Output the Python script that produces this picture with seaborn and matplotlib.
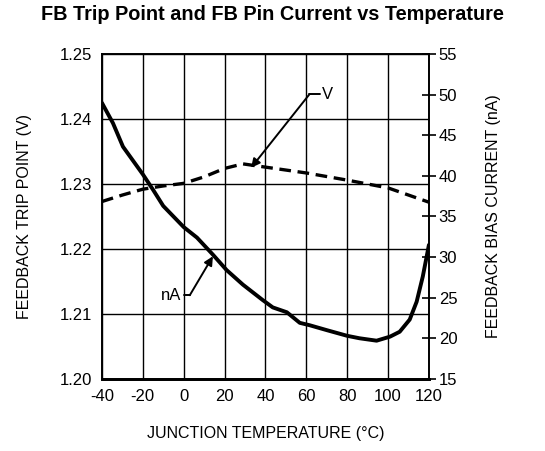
import matplotlib
matplotlib.use("Agg")
import matplotlib.pyplot as plt
import seaborn as sns
import pandas as pd

# trip point (V), dashed curve, left axis
temp_v = [-40, -30, -20, -10, 0, 10, 20, 29, 40, 60, 80, 100, 120]
trip_v = [1.2273, 1.2283, 1.2292, 1.2297, 1.2301, 1.2311, 1.2324, 1.2331, 1.2326,
          1.2317, 1.2306, 1.2294, 1.2272]

# pin current (nA), solid curve, right axis
temp_na = [-40, -34.6, -29.7, -20, -15, -10, 0, 6.5, 14.3, 21, 29, 38.7, 43.6, 50.5,
           56.8, 61.7, 70, 80, 86, 94.4, 101, 105.7, 110.6, 114, 117, 120]
bias_na = [49.0, 46.5, 43.6, 40.2, 38.3, 36.3, 33.7, 32.4, 30.3, 28.4, 26.6, 24.7, 23.8,
           23.2, 21.9, 21.6, 21.0, 20.3, 20.0, 19.7, 20.2, 20.8, 22.3, 24.5, 27.6, 31.5]

x_ticks = [-40, -20, 0, 20, 40, 60, 80, 100, 120]
v_ticks = [1.20, 1.21, 1.22, 1.23, 1.24, 1.25]
na_ticks = [15, 20, 25, 30, 35, 40, 45, 50, 55]

sns.set_style("white")
plt.rcParams["font.family"] = ["Liberation Sans", "DejaVu Sans"]
plt.rcParams["axes.unicode_minus"] = False
plt.rcParams["text.color"] = "black"
plt.rcParams["axes.labelcolor"] = "black"
plt.rcParams["xtick.color"] = "black"
plt.rcParams["ytick.color"] = "black"

df_v = pd.DataFrame({"temp": temp_v, "v": trip_v})
df_na = pd.DataFrame({"temp": temp_na, "na": bias_na})

fig = plt.figure(figsize=(5.45, 4.51), dpi=100)
ax = fig.add_axes([0.187, 0.160, 0.600, 0.720])
ax2 = ax.twinx()

sns.lineplot(data=df_v, x="temp", y="v", ax=ax, color="black", linewidth=2.4,
             linestyle=(0, (3.5, 2)))
sns.lineplot(data=df_na, x="temp", y="na", ax=ax2, color="black", linewidth=2.8,
             solid_joinstyle="round", solid_capstyle="round")

ax.set_xlim(-40, 120)
ax.set_ylim(1.20, 1.25)
ax2.set_ylim(15, 55)
ax.set_xticks(x_ticks)
ax.set_yticks(v_ticks)
ax.set_yticklabels([f"{t:.2f}" for t in v_ticks])
ax2.set_yticks(na_ticks)
ax.grid(True, color="black", linewidth=1.0)
ax.tick_params(axis="both", length=0, labelsize=12, pad=7)
ax2.tick_params(axis="y", direction="inout", length=10, width=1.2, labelsize=12, pad=2)

for s in ax.spines.values():
    s.set_color("black")
    s.set_linewidth(1.2)
for s in ax2.spines.values():
    s.set_color("black")
    s.set_linewidth(1.2)
ax.spines["bottom"].set_linewidth(2)
ax2.spines["bottom"].set_linewidth(2)

ax.set_xlabel("JUNCTION TEMPERATURE (°C)", fontsize=11.5, labelpad=16)
ax.set_ylabel("FEEDBACK TRIP POINT (V)", fontsize=11.5, labelpad=20)
ax2.set_ylabel("FEEDBACK BIAS CURRENT (nA)", fontsize=11.5, labelpad=21)
fig.suptitle("FB Trip Point and FB Pin Current vs Temperature", fontsize=14.3,
             fontweight="bold", x=0.5, y=0.99)

# callouts
ax.annotate("", xy=(33, 1.2325), xytext=(61.5, 1.2438),
            arrowprops=dict(arrowstyle="-|>", color="black", lw=1.4, mutation_scale=13,
                            shrinkA=0, shrinkB=0))
ax.plot([61.5, 66.5], [1.2438, 1.2438], color="black", lw=1.4)
ax.text(67.5, 1.2438, "V", fontsize=12, va="center", ha="left")

ax2.annotate("", xy=(14.3, 30.1), xytext=(3, 25.3),
             arrowprops=dict(arrowstyle="-|>", color="black", lw=1.4, mutation_scale=13,
                             shrinkA=0, shrinkB=0))
ax2.plot([0, 3], [25.3, 25.3], color="black", lw=1.4)
ax2.text(-1, 25.3, "nA", fontsize=12, va="center", ha="right")

fig.savefig("out.png", dpi=100)
